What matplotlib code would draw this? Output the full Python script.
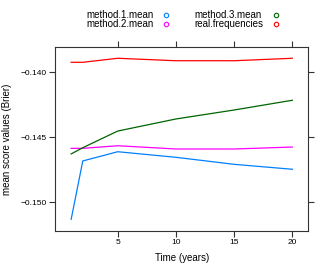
import matplotlib
matplotlib.use("Agg")
import matplotlib.pyplot as plt
from matplotlib.lines import Line2D

plt.rcParams['font.family'] = ['Liberation Sans', 'DejaVu Sans']

# data
years = [1, 2, 5, 10, 15, 20]
method1 = [-0.15131, -0.14682, -0.14611, -0.14654, -0.14708, -0.14746]
method2 = [-0.14585, -0.14585, -0.14565, -0.14590, -0.14590, -0.14575]
method3 = [-0.14628, -0.14580, -0.14452, -0.14359, -0.14290, -0.14215]
realfreq = [-0.13923, -0.13923, -0.13892, -0.13911, -0.13911, -0.13892]
names = ['method.1.mean', 'method.2.mean', 'method.3.mean', 'real.frequencies']
colors = ['#0080ff', '#ff00ff', '#006400', '#ff0000']
xticks = [5, 10, 15, 20]
yticks = [-0.150, -0.145, -0.140]

W, H = 332, 272
fig = plt.figure(figsize=(W / 100, H / 100), dpi=100)
ax = fig.add_axes([0.1666, 0.1507, 0.762, 0.6776])

for vals, c in zip([method1, method2, method3, realfreq], colors):
    ax.plot(years, vals, color=c, lw=0.9)

ax.set_xlim(-0.36, 21.37)
ax.set_ylim(-0.15221, -0.13803)
ax.set_xticks(xticks)
ax.set_yticks(yticks)
ax.set_yticklabels(['\u22120.150', '\u22120.145', '\u22120.140'])
ax.tick_params(direction='out', length=4, width=0.8, labelsize=6, color='#333333',
               top=True, right=True, pad=2)
for s in ax.spines.values():
    s.set_color('#333333')
    s.set_linewidth(0.8)
ax.set_xlabel('Time (years)', fontsize=7, labelpad=5)
ax.set_ylabel('mean score values (Brier)', fontsize=7, labelpad=6)

# key, lattice style: text then open circle, two columns
text_x = [86, 86, 194.5, 194.5]
mark_x = [165.7, 165.7, 275.7, 275.7]
row_y = [15, 24, 15, 24]
for n, c, tx, mx, ry in zip(names, colors, text_x, mark_x, row_y):
    fig.text(tx / W, 1 - ry / H, n, fontsize=7, va='center', ha='left')
    fig.add_artist(Line2D([mx / W], [1 - ry / H], transform=fig.transFigure,
                          ls='none', marker='o', ms=3.2, mfc='none', mec=c, mew=0.8))

fig.savefig('out.png', dpi=100)
